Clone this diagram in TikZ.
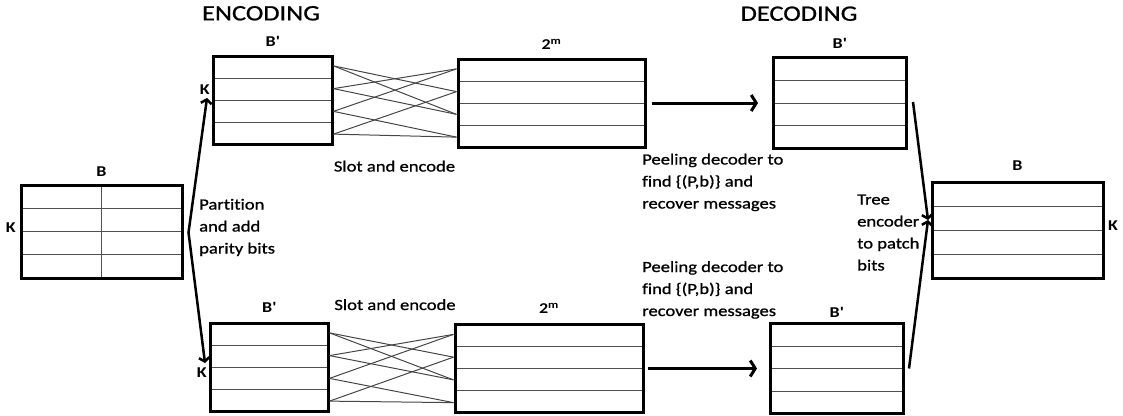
\documentclass[tikz,border=0pt]{standalone}
\usepackage{fontspec}
\setmainfont{Carlito}[FakeStretch=1.2, Ligatures=NoCommon]
\newfontfamily\heavyfont{Carlito}[FakeStretch=1.2, FakeBold=0.9, Ligatures=NoCommon]
\usepackage{tikz}
\usetikzlibrary{calc}
\usetikzlibrary{arrows.meta}
\usetikzlibrary{positioning}
\definecolor{rowgray}{RGB}{80, 80, 80}
\definecolor{wiregray}{RGB}{70, 70, 70}
\newcommand{\rowlines}{%
  \foreach \f in {0.25,0.5,0.75}
    \draw[rowline] ($(path picture bounding box.north west)!\f!(path picture bounding box.south west)$)
                -- ($(path picture bounding box.north east)!\f!(path picture bounding box.south east)$);}

\begin{document}
\begin{tikzpicture}[x=1pt, y=-1pt,
    tbl/.style={draw, line width=3pt, inner sep=0pt, path picture={\rowlines}},
    tblsplit/.style={tbl, path picture={\rowlines
        \draw[rowline] (path picture bounding box.north) -- (path picture bounding box.south);}},
    rowline/.style={line width=1pt, rowgray},
    wire/.style={line width=1pt, wiregray},
    lbl/.style={inner sep=0pt, font=\bfseries\fontsize{15}{17}\selectfont},
    txt/.style={inner sep=0pt, align=left, font=\heavyfont\fontsize{15.5}{22}\selectfont},
    title/.style={inner sep=0pt, font=\heavyfont\fontsize{22}{26}\selectfont},
    bigarr/.style={line width=3pt, -{Straight Barb[length=5pt,width=16pt]}},
    arr/.style={line width=2.5pt, -{Straight Barb[length=4pt,width=11pt]}},
    twoarr/.style={line width=2.5pt, {Straight Barb[length=4pt,width=11pt]}-{Straight Barb[length=4pt,width=11pt]}}]
            \useasboundingbox (0,0) rectangle (1123,415);
            \node[tblsplit, minimum width=161pt, minimum height=93pt] (bl)  at (101.5,231.5) {};
            \node[tbl,      minimum width=119pt, minimum height=88pt] (bpa) at (272.5,100.0) {};
            \node[tbl,      minimum width=118pt, minimum height=88pt] (bpb) at (269.0,367.0) {};
            \node[tbl,      minimum width=187pt, minimum height=88pt] (ma)  at (551.5,103.0) {};
            \node[tbl,      minimum width=188pt, minimum height=88pt] (mb)  at (549.0,368.5) {};
            \node[tbl,      minimum width=133pt, minimum height=91pt] (da)  at (839.5,103.0) {};
            \node[tbl,      minimum width=133pt, minimum height=90pt] (db)  at (836.5,368.5) {};
            \node[tbl,      minimum width=171pt, minimum height=96pt] (br)  at (1017.5,230.0) {};

            \node[lbl, above=7pt of bl]    (bllbl)  {B};
            \node[lbl, above=7.5pt of bpa] (bpalbl) {B\textquotesingle};
            \node[lbl, above=9pt of bpb]   (bpblbl) {B\textquotesingle};
            \node[lbl, above=7.5pt of ma]  (malbl)  {2\textsuperscript{m}};
            \node[lbl, above=9pt of mb]    (mblbl)  {2\textsuperscript{m}};
            \node[lbl, above=7.5pt of da]  (dalbl)  {B\textquotesingle};
            \node[lbl, above=4.5pt of db]  (dblbl)  {B\textquotesingle};
            \node[lbl, above=10pt of br]   (brlbl)  {B};
            \node[lbl, left=3.5pt of bl, yshift=3.5pt]  (blk)  {K};
            \node[lbl, left=1.5pt of bpa, yshift=10pt]  (bpak) {K};
            \node[lbl, left=1.5pt of bpb, yshift=-5.5pt] (bpbk) {K};
            \node[lbl, right=3.5pt of br, yshift=4pt]   (brk)  {K};

            \foreach \a/\b [evaluate=\a as \fa using (\a-0.5)/4, evaluate=\b as \fb using (\b-0.5)/4]
                    in {1/2,1/3,2/1,2/3,3/1,3/4,4/2,4/4} {
                \draw[wire] ($(bpa.north east)!\fa!(bpa.south east)$) -- ($(ma.north west)!\fb!(ma.south west)$);
                \draw[wire] ($(bpb.north east)!\fa!(bpb.south east)$) -- ($(mb.north west)!\fb!(mb.south west)$);
            }

            \coordinate (split) at ($(bl.east)+(5,1)$);
            \coordinate (parta) at ($(bpa.west)+(-4.5,-2)$);
            \coordinate (partb) at ($(bpb.west)+(-3.5,-4)$);
            \draw[twoarr] (parta) -- (split) -- (partb);
            \draw[bigarr] ([xshift=5.5pt]ma.east) -- ([xshift=-13.5pt]da.west);
            \draw[bigarr] ([xshift=3.5pt]mb.east) -- ([xshift=-11.5pt]db.west);
            \coordinate (merge) at ($(br.west)+(-2.5,-10)$);
            \coordinate (treea) at ($(da.east)+(5.5,-1)$);
            \coordinate (treeb) at ($(db.east)+(4.5,0)$);
            \draw[arr] (treea) -- (merge);
            \draw[arr] (treeb) -- (merge);

            \node[title] (enc) at (261,13.3) {ENCODING};
            \node[title] (dec) at (799,13.7) {DECODING};
            \node[txt, anchor=base west] (part)  at (199,253.5) {Partition\\and add\\parity bits};
            \node[txt, anchor=base]      (sloa)  at (394.5,171.5) {Slot and encode};
            \node[txt, anchor=base]      (slob)  at (395,310) {Slot and encode};
            \node[txt, anchor=base west] (peela) at (642,208.5) {Peeling decoder to\\find \{(P,b)\} and\\recover messages};
            \node[txt, anchor=base west] (peelb) at (642,316) {Peeling decoder to\\find \{(P,b)\} and\\recover messages};
            \node[txt, anchor=base west] (tree)  at (857,270.5) {Tree\\encoder\\to patch\\bits};
\end{tikzpicture}
\end{document}
